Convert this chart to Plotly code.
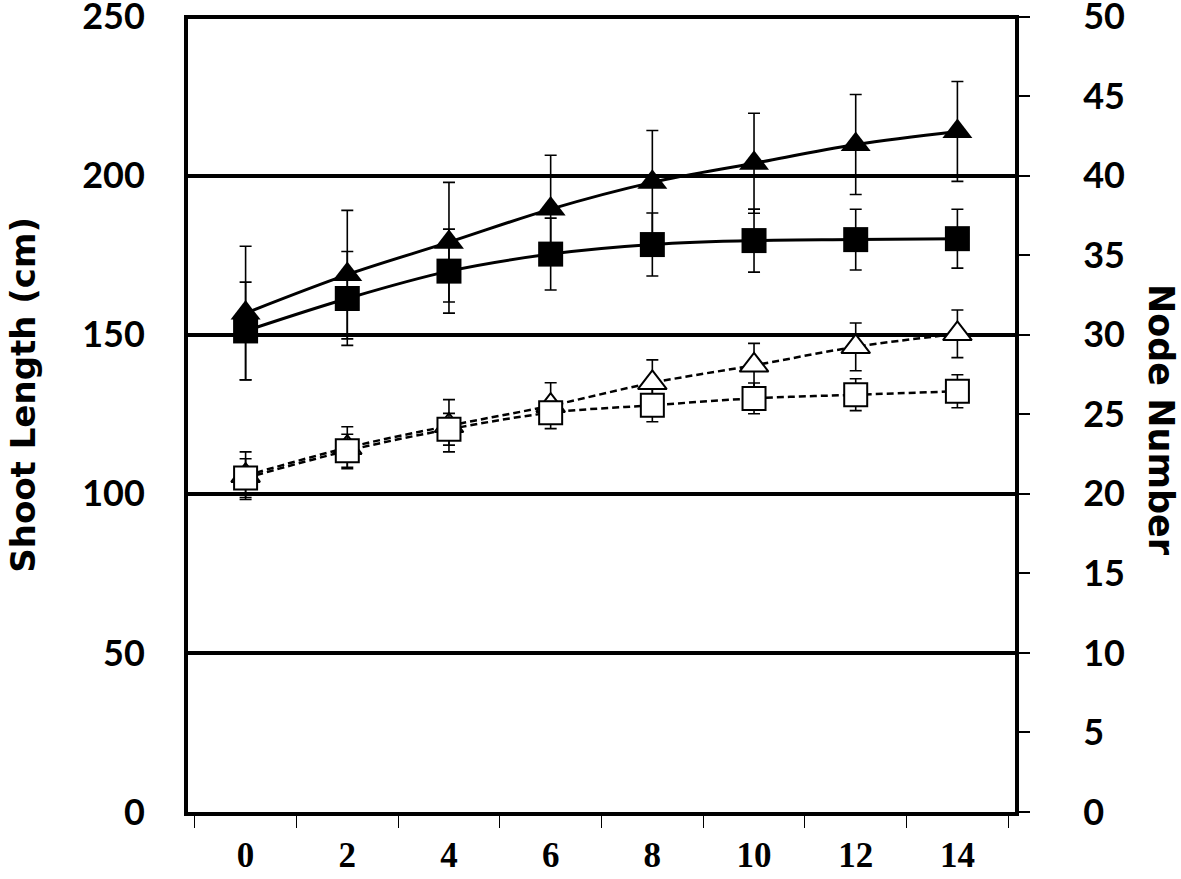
import plotly.graph_objects as go

# days after treatment (category axis)
days = ["0", "2", "4", "6", "8", "10", "12", "14"]

# shoot length (cm) - triangles, left axis
shoot_filled = [156.8, 168.9, 179.1, 189.5, 197.9, 203.9, 209.8, 213.9]
shoot_filled_sd = [21.0, 20.2, 18.8, 16.9, 16.3, 15.7, 15.7, 15.7]
shoot_open = [105.7, 114.5, 121.4, 127.7, 134.9, 140.4, 146.2, 150.3]
shoot_open_sd = [7.5, 6.6, 8.2, 7.2, 7.2, 6.9, 7.5, 7.5]

# node number - squares, right axis
node_filled = [30.24, 32.28, 34.0, 35.07, 35.67, 35.92, 35.98, 36.04]
node_filled_sd = [3.07, 2.95, 2.64, 2.26, 1.98, 1.98, 1.91, 1.85]
node_open = [20.99, 22.71, 24.06, 25.10, 25.57, 26.0, 26.23, 26.45]
node_open_sd = [1.22, 1.04, 1.0, 0.7, 1.04, 0.97, 1.0, 1.04]

left_ticks = [0, 50, 100, 150, 200, 250]
right_ticks = [0, 5, 10, 15, 20, 25, 30, 35, 40, 45, 50]

sans = "Lato"
title_font = "DejaVu Sans"

def err(vals):
    return dict(type="data", array=vals, visible=True, color="black", thickness=1.6, width=6)

fig = go.Figure()

fig.add_trace(go.Scatter(
    x=days, y=shoot_filled, mode="lines+markers", yaxis="y",
    line=dict(color="black", width=3, shape="spline", smoothing=1),
    marker=dict(symbol="triangle-up", size=26, color="black"),
    error_y=err(shoot_filled_sd), showlegend=False))

fig.add_trace(go.Scatter(
    x=days, y=shoot_open, mode="lines+markers", yaxis="y",
    line=dict(color="black", width=2.5, dash="7px,4px", shape="spline", smoothing=1),
    marker=dict(symbol="triangle-up", size=25, color="white", line=dict(color="black", width=2)),
    error_y=err(shoot_open_sd), showlegend=False))

fig.add_trace(go.Scatter(
    x=days, y=node_filled, mode="lines+markers", yaxis="y2",
    line=dict(color="black", width=3, shape="spline", smoothing=1),
    marker=dict(symbol="square", size=25, color="black"),
    error_y=err(node_filled_sd), showlegend=False))

fig.add_trace(go.Scatter(
    x=days, y=node_open, mode="lines+markers", yaxis="y2",
    line=dict(color="black", width=2.5, dash="7px,4px", shape="spline", smoothing=1),
    marker=dict(symbol="square", size=23, color="white", line=dict(color="black", width=2)),
    error_y=err(node_open_sd), showlegend=False))

fig.update_layout(
    template="none",
    width=1181, height=879,
    margin=dict(l=188, r=166, t=15, b=67, autoexpand=False),
    plot_bgcolor="white", paper_bgcolor="white",
    xaxis=dict(
        type="category", categoryorder="array", categoryarray=days, automargin=False,
        tickson="boundaries", ticks="outside", ticklen=12, tickwidth=1.2, tickcolor="black",
        showline=True, linewidth=4, linecolor="black", showgrid=False, zeroline=False,
        tickfont=dict(family="Liberation Serif", size=35, color="black", weight="bold"),
        ticklabelstandoff=9, ticklabeloverflow="allow",
    ),
    xaxis2=dict(
        overlaying="x", anchor="y", range=[-0.5, 7.5], tick0=-0.5, dtick=1, automargin=False,
        ticks="inside", ticklen=12, tickwidth=1.2, tickcolor="black",
        showticklabels=False, showgrid=False, showline=False, zeroline=False,
    ),
    yaxis=dict(
        range=[0, 250.5], tickvals=left_ticks, ticks="", automargin=False,
        showgrid=True, gridcolor="black", gridwidth=3.5, zeroline=False,
        showline=True, linewidth=4, linecolor="black",
        tickfont=dict(family=sans, size=36, color="black", weight="bold"),
        ticklabelstandoff=32, ticklabeloverflow="allow",
    ),
    yaxis2=dict(
        overlaying="y", side="right", range=[0, 50.1], tickvals=right_ticks, automargin=False,
        ticks="outside", ticklen=11, tickwidth=1.5, tickcolor="black",
        showgrid=False, zeroline=False,
        showline=True, linewidth=4, linecolor="black",
        tickfont=dict(family=sans, size=36, color="black", weight="bold"),
        ticklabelstandoff=46, ticklabeloverflow="allow",
    ),
    annotations=[
        dict(text="<b>Shoot Length (cm)</b>", xref="paper", yref="paper",
             x=-0.199, y=0.524, textangle=-90, showarrow=False,
             xanchor="center", yanchor="middle",
             font=dict(family=title_font, size=34, color="black")),
        dict(text="<b>Node Number</b>", xref="paper", yref="paper",
             x=1.1765, y=0.492, textangle=90, showarrow=False,
             xanchor="center", yanchor="middle",
             font=dict(family=title_font, size=35, color="black")),
    ],
)

# the page keeps a default body margin; drop it so the figure sits at 0,0
fig.write_html("out.html", config={"displayModeBar": False},
               post_script="document.body.style.margin='0';")
